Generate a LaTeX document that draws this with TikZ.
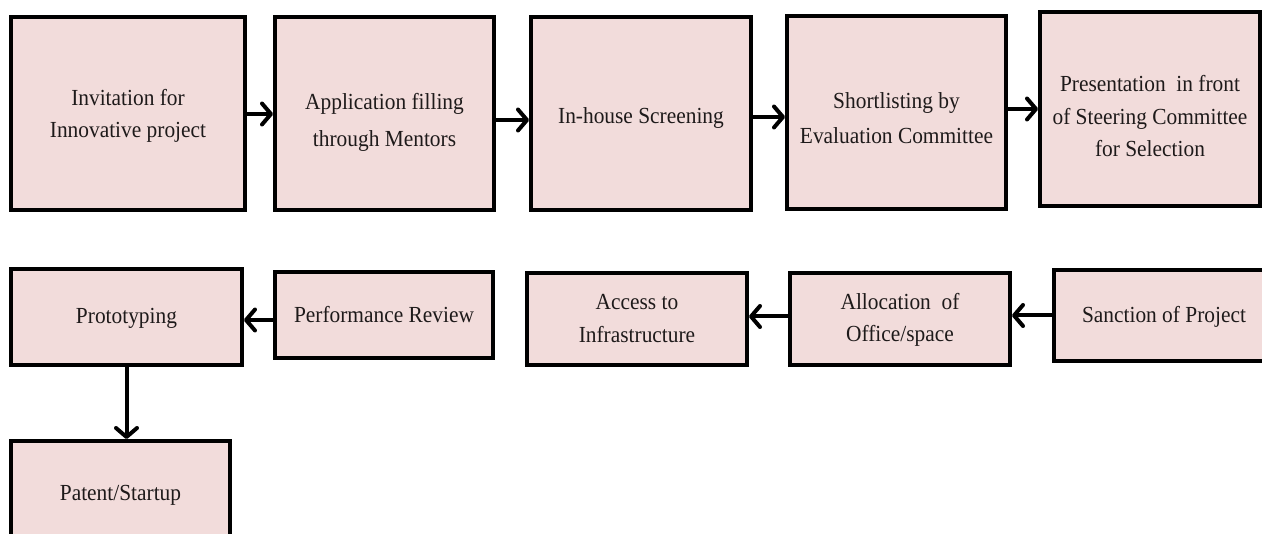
\documentclass[tikz,border=0pt]{standalone}
\usepackage{fontspec}
\setmainfont[FakeStretch=0.93]{Liberation Serif}
\usetikzlibrary{arrows.meta}
\definecolor{boxfill}{HTML}{F2DCDB}
\definecolor{txt}{HTML}{1E1A1A}
\newcommand\tx[2]{\raisebox{-#1pt}[0pt][0pt]{\begin{tabular}{@{}c@{}}#2\end{tabular}}}
\begin{document}
\begin{tikzpicture}[x=1pt,y=-1pt,
  box/.style={draw=black, line width=4pt, fill=boxfill, inner sep=0pt,
    font=\fontsize{23}{32}\selectfont, text=txt},
  arr/.style={line width=4pt, line cap=round, line join=round,
    -{Straight Barb[length=9pt,width=21pt,line cap=round,line join=round]}}]
\useasboundingbox (0,0) rectangle (1262,534);
\clip (0,0) rectangle (1262,534);
% row 1
\node[box, minimum width=234pt, minimum height=193pt] (b1) at (128,113.5) {\tx{7.5}{Invitation for\\Innovative project}};
\node[box, minimum width=219pt, minimum height=193pt] (b2) at (384.5,113.5) {\tx{14.5}{Application filling\\[5pt]through Mentors}};
\node[box, minimum width=220pt, minimum height=193pt] (b3) at (641,113.5) {\tx{9.5}{In-house Screening}};
\node[box, minimum width=219pt, minimum height=193pt] (b4) at (896.5,112.5) {\tx{13.5}{Shortlisting by\\[3pt]Evaluation Committee}};
\node[box, minimum width=220pt, minimum height=194pt] (b5) at (1150,109) {\tx{15}{Presentation\ \ in front\\[0.5pt]of Steering Committee\\[0.5pt]for Selection}};
% row 2
\node[box, minimum width=231pt, minimum height=96pt] (proto) at (126.5,317) {\tx{6}{Prototyping}};
\node[box, minimum width=218pt, minimum height=86pt] (perf) at (384,315) {\tx{7}{Performance Review}};
\node[box, minimum width=220pt, minimum height=92pt] (acc) at (637,319) {\tx{7}{Access to\\[1.5pt]Infrastructure}};
\node[box, minimum width=220pt, minimum height=92pt] (alloc) at (900,319) {\tx{6}{Allocation\ \ of\\Office/space}};
\node[box, minimum width=220pt, minimum height=91pt] (sanc) at (1164,315.5) {\tx{6.5}{Sanction of Project}};
% row 3
\node[box, minimum width=219pt, minimum height=102pt] (pat) at (120.5,492) {\tx{8}{Patent/Startup}};
% connectors
\draw[arr] (b1.east |- 0,114) -- (b2.west |- 0,114);
\draw[arr] (b2.east |- 0,120) -- (b3.west |- 0,120);
\draw[arr] (b3.east |- 0,117) -- (b4.west |- 0,117);
\draw[arr] (b4.east |- 0,109) -- (b5.west |- 0,109);
\draw[arr] (sanc.west |- 0,315.5) -- (alloc.east |- 0,315.5);
\draw[arr] (alloc.west |- 0,316.5) -- (acc.east |- 0,316.5);
\draw[arr] (perf.west |- 0,320) -- (proto.east |- 0,320);
\draw[arr] (proto.south) -- (pat.north -| proto.south);
\end{tikzpicture}
\end{document}
